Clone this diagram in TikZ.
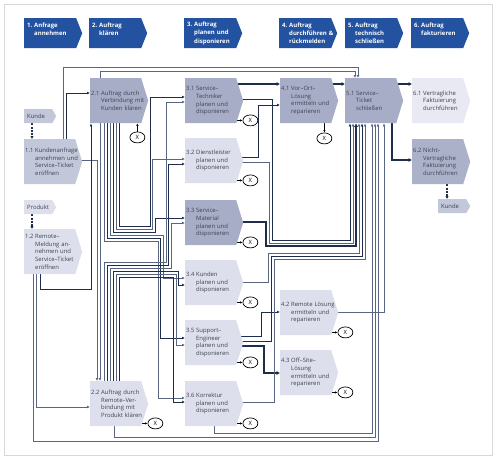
\documentclass[tikz,border=0pt]{standalone}
\usepackage{fontspec}
\setmainfont{Open Sans}
\usetikzlibrary{arrows.meta,calc,shapes.geometric}
\definecolor{hdrblue}{RGB}{35,82,160}
\definecolor{procdark}{RGB}{167,173,198}
\definecolor{procmid}{RGB}{195,199,218}
\definecolor{proclight}{RGB}{221,224,236}
\definecolor{procpale}{RGB}{232,233,242}
\definecolor{proctxt}{RGB}{61,66,82}
\definecolor{linedark}{RGB}{30,45,74}
\definecolor{linegray}{RGB}{88,102,130}
\definecolor{framegray}{RGB}{215,215,215}
\pgfdeclarelayer{background}
\pgfsetlayers{background,main}
\newcommand{\procfont}{\fontsize{5.9}{7.7}\selectfont}
\newcommand{\hdrfont}{\fontsize{6}{8.3}\selectfont\bfseries}
\newcommand{\pn}[1]{\makebox[10pt][l]{#1}}
\newcommand{\ind}{\hspace*{10pt}}
\newcommand{\hn}[1]{\makebox[7pt][l]{#1}}
\newcommand{\hind}{\hspace*{7pt}}
\tikzset{
  chevron/.style 2 args={path picture={\fill[#1] (path picture bounding box.north west) -- ([xshift=-#2]path picture bounding box.north east) -- (path picture bounding box.east) -- ([xshift=-#2]path picture bounding box.south east) -- (path picture bounding box.south west) -- cycle;}},
  hdrbox/.style={rectangle, anchor=north west, minimum width=58pt, minimum height=30pt, text width=52pt, inner xsep=3pt, inner ysep=0pt, align=left, font=\hdrfont, text=white, chevron={hdrblue}{6pt}},
  procbox/.style={rectangle, anchor=north west, minimum width=58pt, minimum height=45pt, text width=56pt, inner xsep=1pt, inner ysep=0pt, align=left, font=\procfont, text=proctxt, chevron={#1}{7pt}},
  tagbox/.style={rectangle, anchor=north west, minimum width=32pt, minimum height=14pt, text width=26pt, inner xsep=3pt, inner ysep=0pt, align=left, font=\procfont, text=proctxt, chevron={#1}{4pt}},
  evt/.style={ellipse, draw=black, line width=0.7pt, fill=white, minimum width=15pt, minimum height=11pt, inner sep=0pt, font=\procfont},
  flow/.style={draw=linegray, line width=0.85pt, -{Latex[length=3pt,width=2.8pt]}},
  mainflow/.style={draw=linedark, line width=1.7pt, -{Latex[length=3.5pt,width=4.2pt]}},
  dashflow/.style={draw=linedark, line width=1.5pt, dash pattern=on 2pt off 1.2pt, -{Latex[length=3pt,width=3.6pt]}},
  evtflow/.style={draw=black, line width=0.6pt, -{Latex[length=2.5pt,width=2.4pt]}}
}
\begin{document}
\begin{tikzpicture}[x=1pt,y=-1pt]
\useasboundingbox (0,0) rectangle (495,459);
\draw[framegray, line width=1pt] (4,4) rectangle (492,455);

% Phasen
\node[hdrbox] (h1) at (24,18) {\hn{1.}Anfrage\\\hind annehmen\\\mbox{}};
\node[hdrbox] (h2) at (89,18) {\hn{2.}Auftrag\\\hind klären\\\mbox{}};
\node[hdrbox] (h3) at (184,18) {\hn{3.}Auftrag\\\hind planen und\\\hind disponieren};
\node[hdrbox] (h4) at (279,18) {\hn{4.}Auftrag\\\hind durchführen \&\\\hind rückmelden};
\node[hdrbox] (h5) at (345,18) {\hn{5.}Auftrag\\\hind technisch\\\hind schließen};
\node[hdrbox] (h6) at (411,18) {\hn{6.}Auftrag\\\hind fakturieren\\\mbox{}};

% Prozessschritte
\node[tagbox=procmid] (k1) at (24,109) {Kunde};
\node[tagbox=proclight] (pr) at (24,200) {Produkt};
\node[procbox=procmid] (n11) at (24,139) {\pn{1.1}Kundenanfrage\\\ind annehmen und\\\ind Service–Ticket\\\ind eröffnen};
\node[procbox=proclight] (n12) at (24,229) {\pn{1.2}Remote–\\\ind Meldung an-\\\ind nehmen und\\\ind Service–Ticket\\\ind eröffnen};
\node[procbox=procdark] (n21) at (90,78) {\pn{2.1}Auftrag durch\\\ind Verbindung mit\\\ind Kunden klären};
\node[procbox=proclight] (n22) at (90,381) {\pn{2.2}Auftrag durch\\\ind Remote–Ver-\\\ind bindung mit\\\ind Produkt klären};
\node[procbox=procdark] (n31) at (185,78) {\pn{3.1}Service–\\\ind Techniker\\\ind planen und\\\ind disponieren};
\node[procbox=proclight] (n32) at (185,138) {\pn{3.2}Dienstleister\\\ind planen und\\\ind disponieren};
\node[procbox=procdark] (n33) at (185,200) {\pn{3.3}Service–\\\ind Material\\\ind planen und\\\ind disponieren};
\node[procbox=proclight] (n34) at (185,260) {\pn{3.4}Kunden\\\ind planen und\\\ind disponieren};
\node[procbox=proclight] (n35) at (185,320) {\pn{3.5}Support–\\\ind Engineer\\\ind planen und\\\ind disponieren};
\node[procbox=proclight] (n36) at (185,381) {\pn{3.6}Korrektur\\\ind planen und\\\ind disponieren};
\node[procbox=procdark] (n41) at (280,78) {\pn{4.1}Vor–Ort–\\\ind Lösung\\\ind ermitteln und\\\ind reparieren};
\node[procbox=proclight] (n42) at (280,290) {\pn{4.2}Remote Lösung\\\ind ermitteln und\\\ind reparieren};
\node[procbox=proclight] (n43) at (280,350) {\pn{4.3}Off–Site–\\\ind Lösung\\\ind ermitteln und\\\ind reparieren};
\node[procbox=procdark] (n51) at (345,78) {\pn{5.1}Service–\\\ind Ticket\\\ind schließen};
\node[procbox=procpale] (n61) at (412,78) {\pn{6.1}Vertragliche\\\ind Faktuierung\\\ind durchführen};
\node[procbox=procdark!85!procmid] (n62) at (412,139) {\pn{6.2}Nicht–\\\ind Vertragliche\\\ind Faktuierung\\\ind durchführen};
\node[tagbox=procmid] (k2) at (438,199) {Kunde};

% Ereignisse
\node[evt] (x21) at ($(n21.south east)+(-11,14)$) {X};
\node[evt] (x41) at ($(n41.south east)+(-14,15)$) {X};
\foreach \b in {22,31,32,33,34,35,36,42,43}
  \node[evt] (x\b) at ($(n\b.south east)+(7,-3)$) {X};

\begin{pgfonlayer}{background}
\draw[dashflow] (k1.south -| 32,0) -- (n11.north -| 32,0);
\draw[dashflow] (pr.south -| 32,0) -- (n12.north -| 32,0);
\draw[dashflow] (n62.south -| 447,0) -- (k2.north -| 447,0);

\draw[evtflow] (x21.north) -- (x21.north |- n21.south);
\draw[evtflow] (x41.north |- n41.south) -- (x41.north);
\foreach \b in {22,31,32,33,34,35,36,42,43}
  \draw[evtflow] (n\b.center |- x\b.west) -- (x\b.west);

% Anfrage und Klaerung
\draw[flow] (n11.north -| 63,0) |- (358,67) -- (n51.north -| 358,0);
\draw[flow] (n21.north -| 100,0) |- (355,71) -- (n51.north -| 355,0);
\draw[flow, draw=linedark] (n11.north -| 66,0) |- (n21.west |- 0,93);
\draw[flow] (n11.center |- 0,160) -| (n22.north -| 97,0);
\draw[flow] (n21.south -| 100,0) -- (n22.north -| 100,0);
\draw[flow, draw=linedark] (n12.south -| 40,0) |- (91,289) -- (n21.south -| 91,0);
\draw[flow] (n12.south -| 36,0) |- (n22.west |- 0,407);
\draw[flow] (n12.south -| 33,0) |- (378,441) -- (n51.south -| 378,0);
\draw[flow] (n22.south -| 114,0) |- (375,437) -- (n51.south -| 375,0);
\draw[flow] (n36.south -| 214,0) |- (372,433) -- (n51.south -| 372,0);

% Planung
\foreach \x/\t/\l/\y/\n/\c in {119/226/150/97/n31/linedark, 116/229/152.5/159/n32/linegray, 113/232/155/218/n33/linedark, 110/235/163/278/n34/linegray, 107/238/160.5/338/n35/linedark, 104/241/158/398/n36/linegray}
  \draw[flow, draw=\c] (n21.south -| \x,0) |- (\l,\t) |- (\n.west |- 0,\y);
\foreach \x/\t/\l/\y/\n/\c in {104/262/166/102/n31/linegray, 107/265/168.5/164/n32/linedark, 110/268/171/223/n33/linegray, 113/271/178.5/285/n34/linedark, 116/274/176/345/n35/linegray, 119/277/173.5/402/n36/linedark}
  \draw[flow, draw=\c] (n22.north -| \x,0) |- (\l,\t) |- (\n.west |- 0,\y);

% Durchfuehrung und Abschluss
\draw[mainflow] (n31.center |- 0,84) -- (n41.west |- 0,84);
\draw[mainflow] (n41.center |- 0,84) -- (n51.west |- 0,84);
\draw[mainflow] (n51.center |- 0,84) -- (n61.west |- 0,84);
\draw[mainflow] (n51.south -| 392,0) |- (n62.west |- 0,160);
\draw[flow, draw=linedark] (n32.center |- 0,157) -| (258,105) -- (n41.west |- 0,105);
\draw[flow, draw=linedark] (n35.center |- 0,336) -| (261,312) -- (n42.west |- 0,312);
\draw[mainflow] (n35.center |- 0,346) -| (264,373) -- (n43.west |- 0,373);
\draw[flow] (n42.center |- 0,312) -| (n51.south -| 384,0);
\foreach \n/\y/\v/\t/\l/\c in {n31/99/272/240/350/linedark, n32/162/269/243/353/linegray, n34/282/268/253/359/linegray, n35/341/271/256/362/linedark, n36/402/274/259/365/linegray}
  \draw[flow, draw=\c] (\n.center |- 0,\y) -| (\v,\t) -| (n51.south -| \l,0);
\draw[mainflow] (n33.center |- 0,222) -| (266,246) -| (n51.south -| 356,0);
\end{pgfonlayer}
\end{tikzpicture}
\end{document}
